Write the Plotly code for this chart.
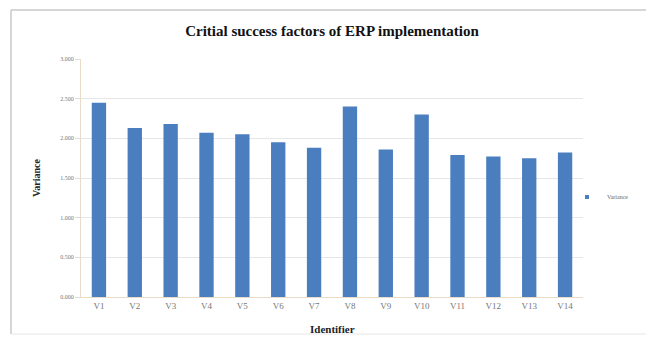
import plotly.graph_objects as go

categories = ["V1", "V2", "V3", "V4", "V5", "V6", "V7", "V8", "V9", "V10", "V11", "V12", "V13", "V14"]
variance = [2.45, 2.13, 2.18, 2.07, 2.05, 1.95, 1.88, 2.40, 1.86, 2.30, 1.79, 1.77, 1.75, 1.82]
y_ticks = [0.0, 0.5, 1.0, 1.5, 2.0, 2.5, 3.0]
y_tick_labels = ["0.000", "0.500", "1.000", "1.500", "2.000", "2.500", "3.000"]

W, H = 646, 340
L, R, T, B = 81, 63, 59, 43
pw, ph = W - L - R, H - T - B

def px_x(x):
    return (x - L) / pw

def px_y(y):
    return (H - B - y) / ph

BAR_COLOR = "#4A7EBF"
serif = "Liberation Serif, Times New Roman, serif"

fig = go.Figure()
fig.add_trace(go.Bar(
    x=categories, y=variance, name="Variance", showlegend=False,
    marker=dict(color=BAR_COLOR, line=dict(width=0)),
))
# legend-only entry with a small square key like the original
fig.add_trace(go.Scatter(
    x=[None], y=[None], name="Variance", mode="markers",
    marker=dict(symbol="square", size=4, color=BAR_COLOR),
))

fig.update_layout(
    width=W, height=H,
    margin=dict(l=L, r=R, t=T, b=B, autoexpand=False),
    paper_bgcolor="white", plot_bgcolor="white",
    bargap=0.6,
    showlegend=True,
    legend=dict(x=px_x(567), y=px_y(197), xanchor="left", yanchor="middle",
                font=dict(family=serif, size=6, color="#666666"),
                itemwidth=30, bgcolor="rgba(0,0,0,0)", tracegroupgap=0),
    title=dict(text="<b>Critial success factors of ERP implementation</b>",
               x=0.5, xanchor="center", xref="paper", y=1 - 31 / H, yanchor="middle",
               font=dict(family=serif, size=15, color="#111111")),
    xaxis=dict(
        automargin=False,
        showgrid=False, showline=True, linecolor="#e8dcc8", linewidth=1,
        ticks="", tickfont=dict(family=serif, size=9, color="#777777"),
    ),
    yaxis=dict(
        automargin=False,
        range=[0, 3.0], tickvals=y_ticks, ticktext=y_tick_labels,
        showgrid=True, gridcolor="#e6e6e6", gridwidth=1,
        showline=True, linecolor="#e8dcc8", linewidth=1,
        ticks="outside", ticklen=5, tickcolor="#dddddd",
        tickfont=dict(family=serif, size=6, color="#777777"),
        zeroline=False,
    ),
    annotations=[
        dict(text="<b>Identifier</b>", xref="paper", yref="paper", x=0.5, y=px_y(329),
             xanchor="center", yanchor="middle", showarrow=False,
             font=dict(family=serif, size=11, color="#222222")),
        dict(text="<b>Variance</b>", xref="paper", yref="paper", x=px_x(36), y=px_y(178),
             xanchor="center", yanchor="middle", showarrow=False, textangle=-90,
             font=dict(family=serif, size=10, color="#222222")),
    ],
    shapes=[
        dict(type="line", xref="paper", yref="paper", x0=px_x(11), x1=px_x(700), y0=px_y(10), y1=px_y(10),
             line=dict(color="#c8c8c8", width=1.5)),
        dict(type="line", xref="paper", yref="paper", x0=px_x(11), x1=px_x(11), y0=px_y(10), y1=px_y(334),
             line=dict(color="#c8c8c8", width=1.5)),
        dict(type="line", xref="paper", yref="paper", x0=px_x(11), x1=px_x(700), y0=px_y(334), y1=px_y(334),
             line=dict(color="#e6e6e6", width=1)),
    ],
)

fig.write_html("out.html")
